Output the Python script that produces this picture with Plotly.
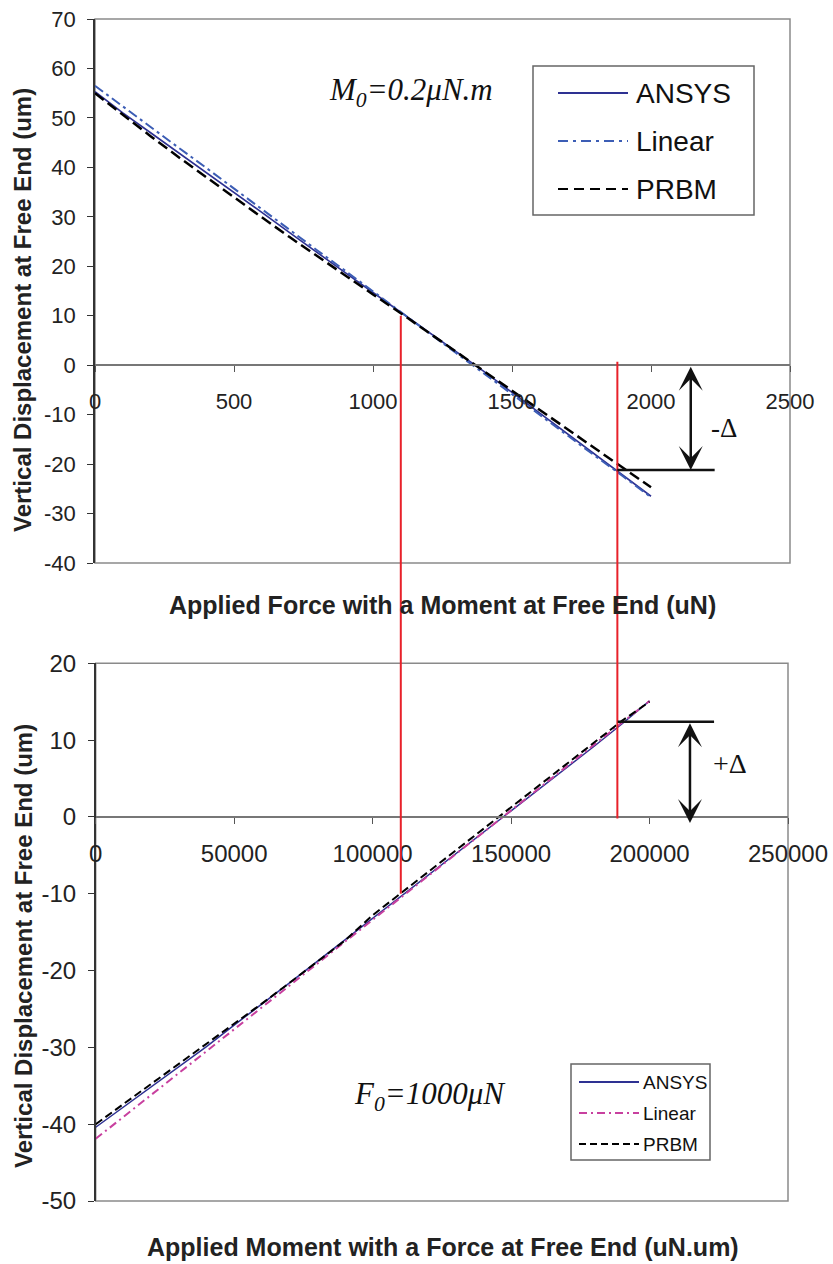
import plotly.graph_objects as go

# ---------------- data ----------------
force_uN = [0, 100, 200, 300, 400, 500, 600, 700, 800, 900, 1000,
            1100, 1200, 1300, 1400, 1500, 1600, 1700, 1800, 1900, 2000]
top_ansys = [55.3, 51.0, 47.0, 43.0, 39.0, 35.0, 30.9, 26.8, 22.7, 18.7, 14.7,
             10.7, 6.8, 2.8, -1.3, -5.5, -9.7, -13.9, -18.1, -22.3, -26.5]
top_linear = [56.5, 52.3, 48.2, 44.0, 39.9, 35.7, 31.5, 27.4, 23.2, 19.1, 14.9,
              10.7, 6.6, 2.4, -1.7, -5.9, -10.1, -14.2, -18.4, -22.5, -26.7]
top_prbm = [55.0, 50.6, 46.3, 42.1, 38.0, 33.9, 29.9, 25.9, 22.0, 18.1, 14.3,
            10.5, 6.6, 2.7, -1.2, -5.1, -9.0, -13.0, -16.9, -20.8, -24.7]

moment_uNum = [0, 10000, 20000, 30000, 40000, 50000, 60000, 70000, 80000, 90000, 100000,
               110000, 120000, 130000, 140000, 150000, 160000, 170000, 180000, 190000, 200000]
bot_ansys = [-40.4, -37.8, -35.2, -32.6, -29.9, -27.1, -24.4, -21.6, -18.8, -16.0, -13.3,
             -10.5, -7.7, -4.9, -2.1, 0.7, 3.5, 6.3, 9.2, 12.1, 15.1]
bot_linear = [-41.9, -39.05, -36.2, -33.35, -30.5, -27.65, -24.8, -21.95, -19.1, -16.25, -13.4,
              -10.55, -7.7, -4.85, -2.0, 0.85, 3.7, 6.55, 9.4, 12.25, 15.1]
bot_prbm = [-40.0, -37.4, -34.8, -32.2, -29.6, -27.0, -24.3, -21.6, -18.9, -16.1, -12.8,
            -10.0, -7.2, -4.4, -1.6, 1.2, 4.0, 6.8, 9.7, 12.5, 15.0]

series_names = ["ANSYS", "Linear", "PRBM"]

# axis ticks
top_xticks = [0, 500, 1000, 1500, 2000, 2500]
top_xlabels = ["0", "500", "1000", "1500", "2000", "2500"]
top_yticks = [-40, -30, -20, -10, 0, 10, 20, 30, 40, 50, 60, 70]
top_ylabels = ["-40", "-30", "-20", "-10", "0", "10", "20", "30", "40", "50", "60", "70"]
bot_xticks = [0, 50000, 100000, 150000, 200000, 250000]
bot_xlabels = ["0", "50000", "100000", "150000", "200000", "250000"]
bot_yticks = [-50, -40, -30, -20, -10, 0, 10, 20]
bot_ylabels = ["-50", "-40", "-30", "-20", "-10", "0", "10", "20"]
top_xrange = [0, 2500]
top_yrange = [-40, 70]
bot_xrange = [0, 250000]
bot_yrange = [-50, 20]

# annotation values
red_force = [1100, 1879]          # uN on top chart
red_top_end = [10.0, 0.7]         # top end of red lines (top chart units)
red_bot_end = [-10.0, -0.2]       # bottom end of red lines (bottom chart units)
red_moment_2 = 188500
top_delta = -21.2
bot_delta = 12.4
top_arrow_x = 2143
top_hline_end = 2229
bot_arrow_x = 214600
bot_hline_end = 223300

W, H = 833, 1264
TOP_DOM_X = [95 / W, 790 / W]
TOP_DOM_Y = [1 - 563 / H, 1 - 19 / H]
BOT_DOM_X = [95.7 / W, 788 / W]
BOT_DOM_Y = [1 - 1201 / H, 1 - 663.3 / H]


def py(v, rng, dom):
    return dom[0] + (v - rng[0]) / (rng[1] - rng[0]) * (dom[1] - dom[0])


def fx(p):
    return p / W


def fy(p):
    return 1 - p / H


NAVY = "#2E3192"
BLUE = "#3C5DB5"
MAGENTA = "#C8409F"
RED = "#E8212A"
GRAY = "#8A8A8A"
FONT = "Liberation Sans"
SERIF = "Liberation Serif"

fig = go.Figure()
fig.add_trace(go.Scatter(x=force_uN, y=top_ansys, mode="lines", name=series_names[0],
                         line=dict(color=NAVY, width=1.6), xaxis="x", yaxis="y"))
fig.add_trace(go.Scatter(x=force_uN, y=top_linear, mode="lines", name=series_names[1],
                         line=dict(color=BLUE, width=2, dash="10px,4px,3px,4px"), xaxis="x", yaxis="y"))
fig.add_trace(go.Scatter(x=force_uN, y=top_prbm, mode="lines", name=series_names[2],
                         line=dict(color="black", width=2.5, dash="11px,5px"), xaxis="x", yaxis="y"))
fig.add_trace(go.Scatter(x=moment_uNum, y=bot_ansys, mode="lines", name=series_names[0],
                         line=dict(color=NAVY, width=1.5), xaxis="x2", yaxis="y2"))
fig.add_trace(go.Scatter(x=moment_uNum, y=bot_linear, mode="lines", name=series_names[1],
                         line=dict(color=MAGENTA, width=2, dash="8px,4px,2px,4px"), xaxis="x2", yaxis="y2"))
fig.add_trace(go.Scatter(x=moment_uNum, y=bot_prbm, mode="lines", name=series_names[2],
                         line=dict(color="black", width=2, dash="8px,4px"), xaxis="x2", yaxis="y2"))

top_zero = py(0, top_yrange, TOP_DOM_Y)
bot_zero = py(0, bot_yrange, BOT_DOM_Y)


def xax(dom, rng, vals, labels, pos, size, standoff):
    return dict(domain=dom, range=rng, tickmode="array", tickvals=vals, ticktext=labels,
                showline=True, linecolor="#777777", linewidth=1.5, ticks="outside", ticklen=6,
                tickcolor="#555555", showgrid=False, zeroline=False, anchor="free", position=pos,
                automargin=False, tickfont=dict(family=FONT, size=size, color="#222222"),
                ticklabelstandoff=standoff)


def yax(dom, rng, vals, labels, anchor, size):
    return dict(domain=dom, range=rng, tickmode="array", tickvals=vals, ticktext=labels,
                showline=True, linecolor="#333333", linewidth=1.5, ticks="outside", ticklen=6,
                tickcolor="#333333", showgrid=False, zeroline=False, anchor=anchor,
                automargin=False, tickfont=dict(family=FONT, size=size, color="#222222"),
                ticklabelstandoff=7)


fig.update_layout(
    width=W, height=H, margin=dict(l=0, r=0, t=0, b=0, autoexpand=False),
    paper_bgcolor="white", plot_bgcolor="white", showlegend=False,
    xaxis=xax(TOP_DOM_X, top_xrange, top_xticks, top_xlabels, top_zero, 22, 11),
    yaxis=yax(TOP_DOM_Y, top_yrange, top_yticks, top_ylabels, "x", 22),
    xaxis2=xax(BOT_DOM_X, bot_xrange, bot_xticks, bot_xlabels, bot_zero, 24, 10),
    yaxis2=yax(BOT_DOM_Y, bot_yrange, bot_yticks, bot_ylabels, "x2", 24),
)

shapes = []
# plot frames (gray)
for xr, yr in (("x domain", "y domain"), ("x2 domain", "y2 domain")):
    shapes.append(dict(type="rect", xref=xr, yref=yr, x0=0, x1=1, y0=0, y1=1,
                       line=dict(color=GRAY, width=1.5), layer="below"))

# red connecting lines
for i in range(2):
    shapes.append(dict(type="line", xref="x", yref="paper", x0=red_force[i], x1=red_force[i],
                       y0=py(red_top_end[i], top_yrange, TOP_DOM_Y),
                       y1=py(red_bot_end[i], bot_yrange, BOT_DOM_Y),
                       line=dict(color=RED, width=2)))

# delta reference lines
shapes.append(dict(type="line", xref="x", yref="y", x0=red_force[1], x1=top_hline_end,
                   y0=top_delta, y1=top_delta, line=dict(color="#111111", width=2.5)))
shapes.append(dict(type="line", xref="x2", yref="y2", x0=red_moment_2, x1=bot_hline_end,
                   y0=bot_delta, y1=bot_delta, line=dict(color="#111111", width=2.5)))

annotations = []


def ann(**kw):
    base = dict(xref="paper", yref="paper", showarrow=False, xanchor="center", yanchor="middle")
    base.update(kw)
    annotations.append(base)


# arrows
annotations.append(dict(x=top_arrow_x, y=top_delta, ax=top_arrow_x, ay=0, xref="x", yref="y",
                        axref="x", ayref="y", text="", showarrow=True, arrowhead=3, startarrowhead=3,
                        arrowside="end+start", arrowsize=1.6, startarrowsize=1.6, arrowwidth=2.5,
                        arrowcolor="#111111"))
annotations.append(dict(x=bot_arrow_x, y=-0.8, ax=bot_arrow_x, ay=bot_delta, xref="x2", yref="y2",
                        axref="x2", ayref="y2", text="", showarrow=True, arrowhead=3, startarrowhead=3,
                        arrowside="end+start", arrowsize=1.6, startarrowsize=1.6, arrowwidth=2.5,
                        arrowcolor="#111111"))
ann(x=fx(724), y=fy(428), text="-Δ", font=dict(family=SERIF, size=27, color="#111111"))
ann(x=fx(730), y=fy(763), text="+Δ", font=dict(family=SERIF, size=28, color="#111111"))

# condition labels
ann(x=fx(327), y=fy(92), xanchor="left", text="<i>M<sub>0</sub>=0.2μN.m</i>",
    font=dict(family=SERIF, size=31, color="#111111"))
ann(x=fx(352), y=fy(1096), xanchor="left", text="<i>F<sub>0</sub>=1000μN</i>",
    font=dict(family=SERIF, size=31, color="#111111"))

# axis titles
ann(x=fx(442), y=fy(605), text="<b>Applied Force with a Moment at Free End (uN)</b>",
    font=dict(family=FONT, size=25, color="#222222"))
ann(x=fx(443), y=fy(1247), text="<b>Applied Moment with a Force at Free End (uN.um)</b>",
    font=dict(family=FONT, size=25, color="#222222"))
ann(x=fx(23), y=fy(310), textangle=-90, text="<b>Vertical Displacement at Free End (um)</b>",
    font=dict(family=FONT, size=24, color="#222222"))
ann(x=fx(23), y=fy(946), textangle=-90, text="<b>Vertical Displacement at Free End (um)</b>",
    font=dict(family=FONT, size=24, color="#222222"))


# manual legends
def legend(box, line_x, text_x, rows, colors, dashes, widths, size):
    shapes.append(dict(type="rect", xref="paper", yref="paper", x0=fx(box[0]), x1=fx(box[1]),
                       y0=fy(box[3]), y1=fy(box[2]), line=dict(color="#666666", width=1.5),
                       fillcolor="white"))
    for name, yy, c, d, w in zip(series_names, rows, colors, dashes, widths):
        shapes.append(dict(type="line", xref="paper", yref="paper", x0=fx(line_x[0]), x1=fx(line_x[1]),
                           y0=fy(yy), y1=fy(yy), line=dict(color=c, width=w, dash=d)))
        ann(x=fx(text_x), y=fy(yy), xanchor="left", text=name,
            font=dict(family=FONT, size=size, color="#111111"))


legend([533, 754, 66, 215], [558, 628], 634, [93, 141, 189],
       [NAVY, BLUE, "black"], ["solid", "10px,5px,3px,5px", "10px,6px"], [1.8, 2, 2], 28)
legend([571, 710, 1064, 1160], [579, 639], 641, [1082, 1113, 1144],
       [NAVY, MAGENTA, "black"], ["solid", "8px,4px,2px,4px", "7px,4px"], [1.8, 2, 2], 19)

fig.update_layout(shapes=shapes, annotations=annotations)
fig.write_html("out.html")
